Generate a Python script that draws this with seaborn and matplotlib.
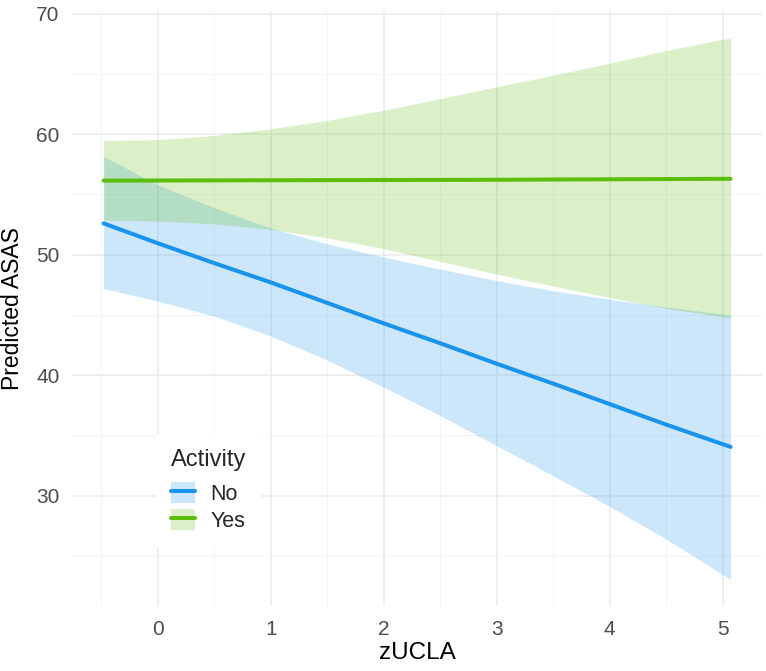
import matplotlib
matplotlib.use("Agg")
import matplotlib.pyplot as plt
from matplotlib.lines import Line2D
from matplotlib.patches import Patch
from matplotlib.ticker import MultipleLocator
import seaborn as sns
import pandas as pd

# ---- data ----
zucla = [-0.48, 0.0, 0.5, 1.0, 1.5, 2.0, 2.5, 3.0, 3.5, 4.0, 4.5, 5.07]

no_fit   = [52.6, 50.95, 49.3, 47.7, 46.0, 44.3, 42.65, 40.95, 39.3, 37.6, 35.9, 34.05]
no_lower = [47.2, 46.15, 44.9, 43.25, 41.25, 39.0, 36.65, 34.15, 31.65, 29.1, 26.4, 23.05]
no_upper = [58.15, 55.8, 53.9, 52.2, 50.9, 49.8, 48.8, 47.85, 47.0, 46.3, 45.65, 45.0]

yes_fit   = [56.15, 56.16, 56.17, 56.18, 56.19, 56.2, 56.21, 56.22, 56.24, 56.26, 56.28, 56.3]
yes_lower = [52.85, 52.8, 52.56, 52.1, 51.4, 50.5, 49.45, 48.4, 47.4, 46.45, 45.55, 44.75]
yes_upper = [59.48, 59.55, 59.9, 60.45, 61.15, 62.0, 62.95, 63.95, 64.9, 65.9, 66.95, 68.0]

groups = ["No", "Yes"]
y_ticks = [30, 40, 50, 60, 70]
x_ticks = [0, 1, 2, 3, 4, 5]

colors = {"No": "#1A93EC", "Yes": "#5CBE0C"}

df = pd.DataFrame({
    "zUCLA": zucla * 2,
    "Predicted ASAS": no_fit + yes_fit,
    "lower": no_lower + yes_lower,
    "upper": no_upper + yes_upper,
    "Activity": ["No"] * len(zucla) + ["Yes"] * len(zucla),
})

sns.set_theme(style="whitegrid")
plt.rcParams["font.family"] = ["Liberation Sans", "DejaVu Sans"]

fig = plt.figure(figsize=(7.66, 6.71), dpi=100)
ax = fig.add_axes([0.094, 0.097, 0.901, 0.887])

for g in groups:
    sub = df[df["Activity"] == g]
    ax.fill_between(sub["zUCLA"], sub["lower"], sub["upper"],
                    color=colors[g], alpha=0.22, linewidth=0, zorder=2)

sns.lineplot(data=df, x="zUCLA", y="Predicted ASAS", hue="Activity",
             palette=colors, hue_order=groups, linewidth=2.9, ax=ax,
             legend=False, zorder=3)

ax.set_xlim(-0.76, 5.35)
ax.set_ylim(20.85, 70.25)
ax.set_xticks(x_ticks)
ax.set_yticks(y_ticks)
ax.xaxis.set_minor_locator(MultipleLocator(0.5))
ax.yaxis.set_minor_locator(MultipleLocator(5))
ax.grid(which="major", color="#EBEBEB", linewidth=1.1, zorder=0)
ax.grid(which="minor", color="#F2F2F2", linewidth=0.6, zorder=0)
ax.set_axisbelow(True)
for s in ax.spines.values():
    s.set_visible(False)
ax.tick_params(axis="both", which="both", length=0, labelsize=15,
               labelcolor="#4D4D4D")
ax.tick_params(axis="x", pad=10)
ax.tick_params(axis="y", pad=9)
ax.set_xlabel("zUCLA", fontsize=17.5, color="black", labelpad=2)
ax.set_ylabel("Predicted ASAS", fontsize=16.5, color="black", labelpad=9)

handles = [(Patch(facecolor=colors[g], alpha=0.22, linewidth=0),
            Line2D([], [], color=colors[g], linewidth=2.9)) for g in groups]
leg = ax.legend(handles, groups, title="Activity", loc="upper left",
                bbox_to_anchor=(157 / 766, 1 - 435 / 671),
                bbox_transform=fig.transFigure, frameon=True, fontsize=15.5,
                title_fontsize=17, handlelength=1.12, handleheight=1.12,
                labelspacing=0.19, handletextpad=0.7, borderpad=0.65,
                borderaxespad=0, fancybox=False)
leg.get_frame().set_facecolor("white")
leg.get_frame().set_edgecolor("white")
leg.get_frame().set_alpha(1)
leg._legend_box.align = "left"
leg._legend_box.sep = 8

fig.savefig("out.png", dpi=100)
